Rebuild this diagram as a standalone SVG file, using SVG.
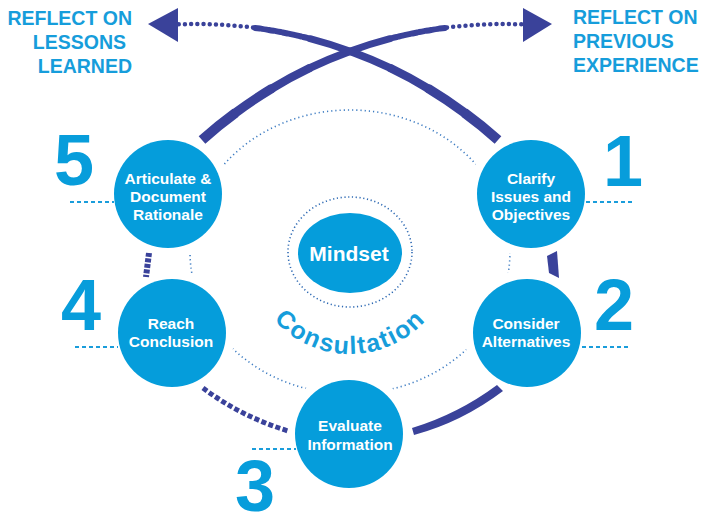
<svg xmlns="http://www.w3.org/2000/svg" width="701" height="518" viewBox="0 0 701 518">
<style>
.halo{fill:#fff}
.node{fill:#059ddb}
.nt{font-family:"Liberation Sans",Arial,sans-serif;font-weight:bold;font-size:15.5px;fill:#fff;text-anchor:middle}
.num{font-family:"Liberation Sans",Arial,sans-serif;font-weight:bold;font-size:72px;fill:#079ddb;text-anchor:middle}
.hd{font-family:"Liberation Sans",Arial,sans-serif;font-weight:bold;font-size:19.5px;fill:#169ddb}
.heavy{fill:none;stroke:#3a429a;stroke-linecap:butt}
.hr{fill:none;stroke:#3a429a;stroke-linecap:round}
.dots{fill:none;stroke:#3a429a;stroke-linecap:round}
.lead{fill:none;stroke:#1a9ddb;stroke-width:2;stroke-dasharray:4 3}
.ring{fill:none;stroke:#3d7cc2;stroke-width:1.6;stroke-dasharray:1.2 3}
</style>
<defs>
<path id="arcC" d="M248,252 A102,102 0 0 0 452,252"/>
</defs>
<!-- faint outer dotted ring -->
<ellipse class="ring" cx="350" cy="252" rx="160" ry="142"/>
<!-- white halos that open gaps in the ring -->
<circle class="halo" cx="168" cy="194" r="63"/>
<circle class="halo" cx="531" cy="194" r="63"/>
<circle class="halo" cx="172" cy="333" r="63"/>
<circle class="halo" cx="527" cy="333" r="63"/>
<circle class="halo" cx="349" cy="434" r="63"/>
<!-- nodes -->
<g id="node-articulate">
<circle class="node" cx="168" cy="194" r="54"/>
<text class="nt" x="168" y="184">Articulate &amp;</text>
<text class="nt" x="168" y="202">Document</text>
<text class="nt" x="168" y="220">Rationale</text>
</g>
<g id="node-clarify">
<circle class="node" cx="531" cy="194" r="54"/>
<text class="nt" x="531" y="184">Clarify</text>
<text class="nt" x="531" y="202">Issues and</text>
<text class="nt" x="531" y="220">Objectives</text>
</g>
<g id="node-reach">
<circle class="node" cx="172" cy="333" r="54"/>
<text class="nt" x="171" y="329">Reach</text>
<text class="nt" x="171" y="347">Conclusion</text>
</g>
<g id="node-consider">
<circle class="node" cx="527" cy="333" r="54"/>
<text class="nt" x="526" y="329">Consider</text>
<text class="nt" x="526" y="347">Alternatives</text>
</g>
<g id="node-evaluate">
<circle class="node" cx="349" cy="434" r="54"/>
<text class="nt" x="350" y="431">Evaluate</text>
<text class="nt" x="350" y="450">Information</text>
</g>
<g id="node-mindset">
<ellipse cx="350" cy="252" rx="62" ry="55" fill="none" stroke="#2d69b3" stroke-width="1.6" stroke-dasharray="1.2 2.6"/>
<ellipse cx="350" cy="253" rx="52" ry="40" fill="#059ddb"/>
<text class="nt" x="349" y="261" style="font-size:21px">Mindset</text>
</g>
<text font-family="Liberation Sans,Arial,sans-serif" font-weight="bold" font-size="25" fill="#169ddb" letter-spacing="1.6" text-anchor="middle"><textPath href="#arcC" startOffset="50%">Consultation</textPath></text>
<!-- connectors -->
<g id="connectors">
<!-- arc from node 5 to right arrow -->
<path class="heavy" stroke-width="10" d="M202,140 A450,450 0 0 1 235.6,112.8"/>
<path class="hr" stroke-width="9.2" d="M235.6,112.8 A450,450 0 0 1 271.3,88.8"/>
<path class="hr" stroke-width="8.4" d="M271.3,88.8 A450,450 0 0 1 309.2,68.3"/>
<path class="hr" stroke-width="7.7" d="M309.2,68.3 A450,450 0 0 1 348.9,51.6"/>
<path class="hr" stroke-width="7" d="M348.9,51.6 A450,450 0 0 1 390,38.7"/>
<path class="dots" stroke-width="6" stroke-dasharray="5 2" d="M392,38.2 A450,450 0 0 1 445,27.9"/>
<path class="dots" stroke-width="4.5" stroke-dasharray="0 6.2" d="M447,27.6 A450,450 0 0 1 522,24.4"/>
<polygon points="552,24 523,8 523,42" fill="#3a429a"/>
<!-- arc from node 1 to left arrow -->
<path class="heavy" stroke-width="10" d="M498,140 A450,450 0 0 0 464.4,112.8"/>
<path class="hr" stroke-width="9.2" d="M464.4,112.8 A450,450 0 0 0 428.7,88.8"/>
<path class="hr" stroke-width="8.4" d="M428.7,88.8 A450,450 0 0 0 390.8,68.3"/>
<path class="hr" stroke-width="7.7" d="M390.8,68.3 A450,450 0 0 0 351.1,51.6"/>
<path class="hr" stroke-width="7" d="M351.1,51.6 A450,450 0 0 0 310,38.7"/>
<path class="dots" stroke-width="6" stroke-dasharray="5 2" d="M308,38.2 A450,450 0 0 0 255,27.9"/>
<path class="dots" stroke-width="4.5" stroke-dasharray="0 6.2" d="M253,27.6 A450,450 0 0 0 178,24.4"/>
<polygon points="148,24 178,8 178,42" fill="#3a429a"/>
<!-- lower ring pieces -->
<path class="heavy" stroke-width="6" stroke-dasharray="4 1.5" d="M149,253 L146,277"/>
<path d="M547,256 L557,251 L559,278 L549,273 Z" fill="#3a429a"/>
<path class="heavy" stroke-width="5" stroke-dasharray="5 2.5" d="M203,388 Q240,416 288,431"/>
<path d="M497,385 L503,391 Q462,422 414,435 L412,428 Q458,414 497,385 Z" fill="#3a429a"/>
<!-- number leaders -->
<line class="lead" x1="70" y1="202" x2="114" y2="202"/>
<line class="lead" x1="586" y1="202" x2="634" y2="202"/>
<line class="lead" x1="75" y1="347" x2="118" y2="347"/>
<line class="lead" x1="582" y1="347" x2="628" y2="347"/>
<line class="lead" x1="252" y1="449" x2="296" y2="449"/>
</g>
<!-- numbers -->
<text class="num" x="74" y="185">5</text>
<text class="num" x="623" y="186">1</text>
<text class="num" x="81" y="330">4</text>
<text class="num" x="614" y="330">2</text>
<text class="num" x="255" y="511">3</text>
<!-- headers -->
<text class="hd" text-anchor="end" x="132" y="25">REFLECT ON</text>
<text class="hd" text-anchor="end" x="126" y="49">LESSONS</text>
<text class="hd" text-anchor="end" x="132" y="73">LEARNED</text>
<text class="hd" x="573" y="24">REFLECT ON</text>
<text class="hd" x="573" y="48">PREVIOUS</text>
<text class="hd" x="573" y="72">EXPERIENCE</text>
</svg>
